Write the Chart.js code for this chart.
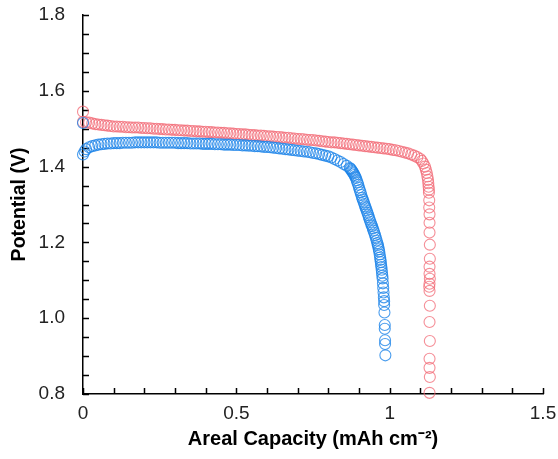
<!DOCTYPE html>
<html>
<head>
<meta charset="utf-8">
<script src="https://cdn.jsdelivr.net/npm/chart.js@4/dist/chart.umd.min.js"></script>
<style>
  body { margin: 0; background: #fff; }
  #wrap { width: 558px; height: 459px; }
</style>
</head>
<body>
<div id="wrap"><canvas id="myChart"></canvas></div>
<script>
// discharge curves: capacity (mAh cm-2) vs potential (V)
const redX = [
  0, 0, 0.01, 0.02, 0.03, 0.04, 0.05, 0.06, 0.07, 0.08, 0.09, 0.10,
  0.11, 0.12, 0.13, 0.14, 0.15, 0.16, 0.17, 0.18, 0.19, 0.20,
  0.21, 0.22, 0.23, 0.24, 0.25, 0.26, 0.27, 0.28, 0.29, 0.30,
  0.31, 0.32, 0.33, 0.34, 0.35, 0.36, 0.37, 0.38, 0.39, 0.40,
  0.41, 0.42, 0.43, 0.44, 0.45, 0.46, 0.47, 0.48, 0.49, 0.50,
  0.51, 0.52, 0.53, 0.54, 0.55, 0.56, 0.57, 0.58, 0.59, 0.60,
  0.61, 0.62, 0.63, 0.64, 0.65, 0.66, 0.67, 0.68, 0.69, 0.70,
  0.71, 0.72, 0.73, 0.74, 0.75, 0.76, 0.77, 0.78, 0.79, 0.80,
  0.81, 0.82, 0.83, 0.84, 0.85, 0.86, 0.87, 0.88, 0.89, 0.90,
  0.91, 0.92, 0.93, 0.94, 0.95, 0.96, 0.97, 0.98, 0.99, 1.00,
  1.01, 1.02, 1.03, 1.04, 1.05, 1.06, 1.07, 1.08, 1.09, 1.10,
  1.105, 1.11, 1.115, 1.118, 1.121, 1.123, 1.125, 1.126, 1.127, 1.128, 1.128,
  1.129, 1.129, 1.13, 1.13, 1.13, 1.131, 1.131, 1.13, 1.13, 1.131,
  1.13, 1.129, 1.13, 1.131, 1.13, 1.131, 1.13, 1.13, 1.131, 1.13
];
const redY = [
  1.545, 1.518, 1.517, 1.516, 1.514, 1.512, 1.511, 1.510, 1.509, 1.508, 1.507, 1.506,
  1.506, 1.505, 1.505, 1.504, 1.504, 1.503, 1.503, 1.503, 1.502, 1.502,
  1.501, 1.501, 1.500, 1.500, 1.499, 1.499, 1.498, 1.498, 1.497, 1.497,
  1.496, 1.496, 1.495, 1.495, 1.494, 1.494, 1.493, 1.493, 1.492, 1.492,
  1.491, 1.491, 1.490, 1.490, 1.489, 1.489, 1.488, 1.488, 1.487, 1.486,
  1.486, 1.485, 1.485, 1.484, 1.483, 1.483, 1.482, 1.482, 1.481, 1.480,
  1.480, 1.479, 1.478, 1.478, 1.477, 1.476, 1.476, 1.475, 1.474, 1.473,
  1.473, 1.472, 1.471, 1.470, 1.470, 1.469, 1.468, 1.467, 1.466, 1.465,
  1.464, 1.464, 1.463, 1.462, 1.461, 1.460, 1.459, 1.458, 1.457, 1.456,
  1.455, 1.454, 1.453, 1.452, 1.451, 1.450, 1.449, 1.448, 1.447, 1.446,
  1.444, 1.443, 1.441, 1.439, 1.437, 1.435, 1.432, 1.429, 1.425, 1.420,
  1.415, 1.408, 1.400, 1.392, 1.383, 1.374, 1.365, 1.356, 1.347, 1.339, 1.331,
  1.311, 1.292, 1.274, 1.252, 1.226, 1.194, 1.157, 1.136, 1.117, 1.104,
  1.091, 1.083, 1.072, 1.033, 0.990, 0.940, 0.893, 0.869, 0.845, 0.803
];

const blueX = [
  0, 0, 0.005, 0.01, 0.02, 0.03, 0.04, 0.05, 0.06, 0.07, 0.08, 0.09, 0.10,
  0.11, 0.12, 0.13, 0.14, 0.15, 0.16, 0.17, 0.18, 0.19, 0.20,
  0.21, 0.22, 0.23, 0.24, 0.25, 0.26, 0.27, 0.28, 0.29, 0.30,
  0.31, 0.32, 0.33, 0.34, 0.35, 0.36, 0.37, 0.38, 0.39, 0.40,
  0.41, 0.42, 0.43, 0.44, 0.45, 0.46, 0.47, 0.48, 0.49, 0.50,
  0.51, 0.52, 0.53, 0.54, 0.55, 0.56, 0.57, 0.58, 0.59, 0.60,
  0.61, 0.62, 0.63, 0.64, 0.65, 0.66, 0.67, 0.68, 0.69, 0.70,
  0.71, 0.72, 0.73, 0.74, 0.75, 0.76, 0.77, 0.78, 0.79, 0.80,
  0.81, 0.82, 0.83, 0.84, 0.85, 0.86, 0.87,
  0.8725, 0.875, 0.8775, 0.88, 0.8825, 0.885, 0.8875, 0.89, 0.8925, 0.895,
  0.8975, 0.90, 0.9025, 0.905, 0.9075, 0.91, 0.9125, 0.915, 0.9175, 0.92,
  0.9225, 0.925, 0.9275, 0.93, 0.9325, 0.935, 0.9375, 0.94, 0.9425, 0.945,
  0.9475, 0.95, 0.9525, 0.955, 0.9575, 0.96,
  0.9615, 0.963, 0.9645, 0.966, 0.9675, 0.969, 0.970, 0.971, 0.972, 0.973,
  0.974, 0.975, 0.976, 0.977, 0.978, 0.979, 0.980, 0.981,
  0.982, 0.982, 0.983, 0.984, 0.984, 0.985, 0.985, 0.986
];
const blueY = [
  1.515, 1.432, 1.440, 1.446, 1.451, 1.454, 1.456, 1.458, 1.459, 1.460, 1.461, 1.461, 1.462,
  1.462, 1.462, 1.463, 1.463, 1.463, 1.463, 1.464, 1.464, 1.464, 1.464,
  1.464, 1.464, 1.464, 1.464, 1.463, 1.463, 1.463, 1.463, 1.463, 1.463,
  1.462, 1.462, 1.462, 1.462, 1.461, 1.461, 1.461, 1.461, 1.460, 1.460,
  1.460, 1.460, 1.459, 1.459, 1.459, 1.458, 1.458, 1.458, 1.457, 1.457,
  1.457, 1.456, 1.456, 1.455, 1.455, 1.454, 1.454, 1.453, 1.452, 1.452,
  1.451, 1.450, 1.449, 1.448, 1.447, 1.446, 1.445, 1.444, 1.443, 1.442,
  1.441, 1.440, 1.439, 1.438, 1.436, 1.435, 1.433, 1.431, 1.429, 1.427,
  1.424, 1.420, 1.416, 1.412, 1.407, 1.402, 1.396,
  1.394, 1.391, 1.388, 1.385, 1.382, 1.378, 1.374, 1.370, 1.364, 1.358,
  1.352, 1.345, 1.338, 1.332, 1.325, 1.318, 1.313, 1.307, 1.301, 1.295,
  1.290, 1.284, 1.278, 1.272, 1.266, 1.260, 1.254, 1.248, 1.243, 1.237,
  1.231, 1.225, 1.219, 1.212, 1.205, 1.198,
  1.193, 1.188, 1.182, 1.176, 1.168, 1.160, 1.154, 1.148, 1.141, 1.135,
  1.128, 1.120, 1.112, 1.105, 1.092, 1.080, 1.068, 1.055,
  1.045, 1.035, 1.015, 0.982, 0.972, 0.942, 0.932, 0.902
];

const xTickLabels = ["0", "0.5", "1", "1.5"];
const yTickLabels = ["0.8", "1.0", "1.2", "1.4", "1.6", "1.8"];

const toPoints = (xs, ys) => xs.map((x, i) => ({ x: x, y: ys[i] }));

// little inward tick marks, like the original plot
const innerTicks = {
  id: "innerTicks",
  beforeDatasetsDraw(chart) {
    const ctx = chart.ctx;
    const xs = chart.scales.x;
    const ys = chart.scales.y;
    ctx.save();
    ctx.strokeStyle = "#000";
    ctx.lineWidth = 1.5;
    ctx.beginPath();
    xs.ticks.forEach((t) => {
      const px = Math.round(xs.getPixelForValue(t.value)) + 0.5;
      ctx.moveTo(px, ys.bottom);
      ctx.lineTo(px, ys.bottom - 6);
    });
    ys.ticks.forEach((t) => {
      const py = Math.round(ys.getPixelForValue(t.value)) + 0.5;
      ctx.moveTo(xs.left, py);
      ctx.lineTo(xs.left + 6, py);
    });
    ctx.stroke();
    ctx.restore();
  },
};

function renderChart() {
  const ctx = document.getElementById("myChart").getContext("2d");
  const family = "'Liberation Sans', Arial, sans-serif";
  const tickFont = { family: family, size: 19 };

  new Chart(ctx, {
    type: "scatter",
    data: {
      datasets: [
        {
          label: "blue",
          data: toPoints(blueX, blueY),
          borderColor: "rgba(30, 132, 232, 0.8)",
          backgroundColor: "rgba(0, 0, 0, 0)",
          pointRadius: 5.5,
          pointBorderWidth: 1.1,
          clip: false,
        },
        {
          label: "red",
          data: toPoints(redX, redY),
          borderColor: "rgba(242, 104, 116, 0.75)",
          backgroundColor: "rgba(0, 0, 0, 0)",
          pointRadius: 5.5,
          pointBorderWidth: 1.1,
          clip: false,
        },
      ],
    },
    options: {
      responsive: true,
      maintainAspectRatio: false,
      animation: false,
      layout: { padding: { left: 8, top: 0, right: 0, bottom: 8 } },
      plugins: { legend: { display: false }, tooltip: { enabled: false } },
      scales: {
        x: {
          type: "linear",
          min: 0,
          max: 1.5,
          grid: { display: false, drawTicks: false },
          border: { display: true, color: "#000", width: 1.5 },
          afterFit: (scale) => {
            scale.height = 57;
            scale.paddingRight = 15;
          },
          ticks: {
            stepSize: 0.1,
            autoSkip: false,
            maxRotation: 0,
            padding: 8,
            color: "#222",
            font: tickFont,
            callback: (v) => {
              const k = v * 2;
              return Math.abs(k - Math.round(k)) < 1e-6 ? xTickLabels[Math.round(k)] : "";
            },
          },
          title: {
            display: true,
            text: "Areal Capacity (mAh cm\u207B\u00B2)",
            color: "#000",
            font: { family: family, size: 20, weight: "bold" },
            padding: { top: 0, bottom: 0 },
          },
        },
        y: {
          type: "linear",
          min: 0.8,
          max: 1.8,
          grid: { display: false, drawTicks: false },
          border: { display: true, color: "#000", width: 1.5 },
          afterFit: (scale) => {
            scale.width = 75;
            scale.paddingTop = 15;
          },
          ticks: {
            stepSize: 0.05,
            autoSkip: false,
            padding: 18,
            color: "#222",
            font: tickFont,
            callback: (v) => {
              const k = (v - 0.8) * 5;
              return Math.abs(k - Math.round(k)) < 1e-6 ? yTickLabels[Math.round(k)] : "";
            },
          },
          title: {
            display: true,
            text: "Potential (V)",
            color: "#000",
            font: { family: family, size: 19.5, weight: "bold" },
            padding: { top: 0, bottom: 0 },
          },
        },
      },
    },
    plugins: [innerTicks],
  });
}

renderChart();
</script>
</body>
</html>
